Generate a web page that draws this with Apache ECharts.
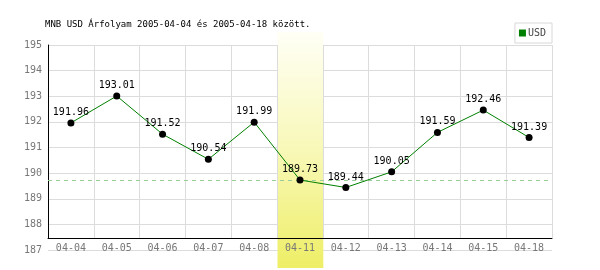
<!DOCTYPE html>
<html><head><meta charset="utf-8">
<script src="https://cdn.jsdelivr.net/npm/echarts@6/dist/echarts.min.js"></script>
<style>html,body{margin:0;padding:0;background:#fff}#c{width:600px;height:270px}</style>
</head><body><div id="c"></div>
<script>
const categories = ['04-04','04-05','04-06','04-07','04-08','04-11','04-12','04-13','04-14','04-15','04-18'];
const usdValues = [191.96,193.01,191.52,190.54,191.99,189.73,189.44,190.05,191.59,192.46,191.39];
const highlightCategory = '04-11';
const referenceValue = 189.73;
const yMin = 187, yMax = 195, yStep = 1;
const titleText = 'MNB USD Árfolyam 2005-04-04 és 2005-04-18 között.';
const seriesName = 'USD';

const FONT = '"DejaVu Sans Mono", "Liberation Mono", monospace';
const chart = echarts.init(document.getElementById('c'), null, {renderer:'canvas'});
const option = {
  animation: false,
  backgroundColor: '#fff',
  title: {text: titleText, left: 45, top: 20, padding: 0,
    textStyle: {fontFamily: FONT, fontSize: 9, fontWeight: 'normal', color: '#000'}},
  legend: {data: [{name: seriesName, itemStyle: {color: '#008000'}}], right: 48, top: 23, orient: 'vertical',
    borderColor: '#d8d8d8', borderWidth: 1, padding: [5, 6, 5, 4],
    itemWidth: 7, itemHeight: 7, itemGap: 0, icon: 'rect',
    textStyle: {fontFamily: FONT, fontSize: 10, color: '#444', padding: [0,0,0,-3]}},
  grid: [
    {left: 48, right: 48, top: 45, bottom: 20, containLabel: false},
    {left: 48, right: 48, top: 45, bottom: 32, containLabel: false}
  ],
  xAxis: [
    {type: 'category', gridIndex: 0, data: categories, boundaryGap: true, z: 3,
     axisLine: {show: false}, axisTick: {show: false}, splitLine: {show: false},
     axisLabel: {fontFamily: FONT, fontSize: 10, color: '#777', margin: -2, verticalAlign: 'middle'}},
    {type: 'category', gridIndex: 1, data: categories, boundaryGap: true, z: 3,
     axisLine: {show: true, lineStyle: {color: '#000', width: 1}}, axisTick: {show: false},
     axisLabel: {show: false}, splitLine: {show: true, lineStyle: {color: '#dcdcdc', width: 1}}}
  ],
  yAxis: [
    {type: 'value', gridIndex: 0, min: yMin, max: yMax, interval: yStep,
     axisLine: {show: false}, axisTick: {show: false},
     axisLabel: {fontFamily: FONT, fontSize: 10, color: '#777', margin: 6},
     splitLine: {show: true, lineStyle: {color: '#dcdcdc', width: 1}}},
    {type: 'value', gridIndex: 1, min: 0, max: 1, z: 3,
     axisLine: {show: true, lineStyle: {color: '#000', width: 1}}, axisTick: {show: false},
     axisLabel: {show: false}, splitLine: {show: false}}
  ],
  series: [{
    name: seriesName, type: 'line', xAxisIndex: 0, yAxisIndex: 0, data: usdValues, z: 5,
    color: '#008000',
    lineStyle: {color: '#008000', width: 1},
    symbol: 'circle', symbolSize: 7,
    itemStyle: {color: '#000', borderWidth: 0},
    label: {show: true, position: 'top', distance: 2, fontFamily: FONT, fontSize: 10, color: '#000',
      formatter: p => p.value.toFixed(2)},
    markLine: {silent: true, symbol: 'none', label: {show: false}, z: 4,
      lineStyle: {color: '#9c9', type: [4, 4], width: 1},
      data: [{yAxis: referenceValue}]}
  }]
};
chart.setOption(option);

const idx = categories.indexOf(highlightCategory);
const cx = chart.convertToPixel({xAxisIndex: 0}, highlightCategory);
const cx2 = chart.convertToPixel({xAxisIndex: 0}, categories[idx + 1]);
const band = cx2 - cx;
const yTop = chart.convertToPixel({yAxisIndex: 0}, yMax);
const yBot = chart.convertToPixel({yAxisIndex: 0}, yMin);
chart.setOption({graphic: [{
  type: 'rect', z: 1, silent: true,
  shape: {x: Math.round(cx - band / 2) + 0.5, y: yTop - 13, width: band, height: (yBot + 18) - (yTop - 13)},
  style: {fill: new echarts.graphic.LinearGradient(0, 0, 0, 1, [
    {offset: 0, color: '#fffff6'}, {offset: 0.5, color: '#f8f8b8'}, {offset: 1, color: '#eeee66'}])}
}]});
</script></body></html>
